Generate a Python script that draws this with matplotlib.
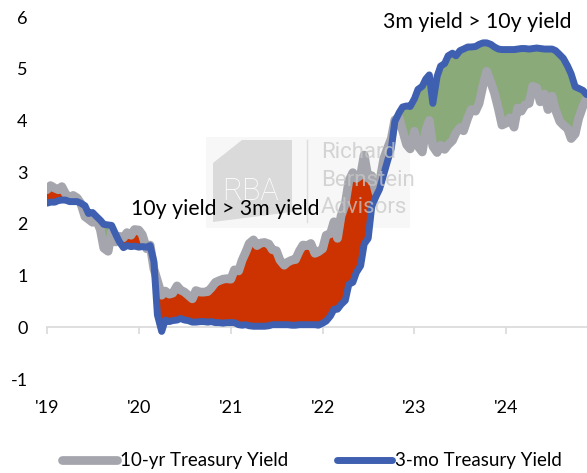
import pandas as pd
import matplotlib.pyplot as plt
from matplotlib.patches import Rectangle, Polygon
import matplotlib.transforms as mtransforms

plt.rcParams['font.family'] = ['Lato', 'DejaVu Sans']

# semi-monthly observations (1st and 15th), Jan 2019 - Nov 2024
dates = pd.date_range('2019-01-01', '2024-11-15', freq='SMS')

ten_yr = [
    # 2019
    2.66, 2.74, 2.69, 2.66, 2.72, 2.59, 2.49, 2.55, 2.50, 2.40, 2.14, 2.09,
    2.03, 2.09, 1.89, 1.53, 1.47, 1.84, 1.65, 1.76, 1.73, 1.83, 1.78, 1.89,
    # 2020
    1.88, 1.79, 1.52, 1.59, 1.13, 0.90, 0.62, 0.70, 0.64, 0.66, 0.80, 0.72,
    0.68, 0.62, 0.55, 0.71, 0.68, 0.68, 0.69, 0.76, 0.87, 0.90, 0.93, 0.94,
    # 2021
    0.93, 1.11, 1.09, 1.30, 1.45, 1.62, 1.69, 1.58, 1.63, 1.64, 1.61, 1.50,
    1.48, 1.30, 1.20, 1.26, 1.30, 1.31, 1.48, 1.59, 1.58, 1.62, 1.43, 1.46,
    # 2022
    1.52, 1.78, 1.81, 2.04, 1.72, 2.15, 2.39, 2.83, 2.99, 2.88, 2.94, 3.33,
    2.88, 2.93, 2.60, 2.79, 3.26, 3.45, 3.65, 4.01, 4.05, 3.80, 3.53, 3.45,
    # 2023
    3.79, 3.50, 3.39, 3.81, 4.00, 3.50, 3.38, 3.52, 3.44, 3.53, 3.61, 3.76,
    3.86, 3.80, 4.05, 4.21, 4.18, 4.33, 4.69, 4.95, 4.73, 4.53, 4.22, 3.91,
    # 2024
    3.95, 4.05, 3.87, 4.24, 4.18, 4.30, 4.33, 4.66, 4.63, 4.36, 4.51, 4.21,
    4.47, 4.20, 3.98, 3.91, 3.84, 3.65, 3.74, 4.04, 4.28, 4.42,
]

three_mo = [
    # 2019
    2.40, 2.42, 2.42, 2.45, 2.46, 2.46, 2.43, 2.43, 2.43, 2.40, 2.35, 2.20,
    2.22, 2.15, 2.07, 1.99, 1.98, 1.97, 1.80, 1.66, 1.54, 1.58, 1.56, 1.57,
    # 2020
    1.55, 1.56, 1.55, 1.58, 1.27, 0.24, -0.08, 0.14, 0.11, 0.13, 0.14, 0.17,
    0.14, 0.13, 0.10, 0.10, 0.11, 0.11, 0.10, 0.11, 0.09, 0.09, 0.08, 0.09,
    # 2021
    0.09, 0.09, 0.05, 0.04, 0.05, 0.03, 0.02, 0.02, 0.02, 0.02, 0.03, 0.05,
    0.05, 0.05, 0.05, 0.05, 0.04, 0.04, 0.05, 0.05, 0.05, 0.05, 0.05, 0.04,
    # 2022
    0.08, 0.12, 0.22, 0.35, 0.35, 0.44, 0.52, 0.83, 0.87, 1.06, 1.19, 1.61,
    1.72, 2.33, 2.53, 2.67, 2.96, 3.20, 3.46, 3.98, 4.15, 4.26, 4.28, 4.27,
    # 2023
    4.42, 4.60, 4.66, 4.80, 4.88, 4.33, 4.85, 5.05, 5.10, 5.25, 5.30, 5.25,
    5.35, 5.38, 5.42, 5.42, 5.43, 5.47, 5.50, 5.50, 5.47, 5.42, 5.38, 5.37,
    # 2024
    5.37, 5.37, 5.37, 5.38, 5.39, 5.39, 5.38, 5.39, 5.40, 5.39, 5.38, 5.38,
    5.38, 5.35, 5.27, 5.20, 5.05, 4.90, 4.65, 4.62, 4.58, 4.50,
]

year_ticks = pd.to_datetime(['2019-01-01', '2020-01-01', '2021-01-01',
                             '2022-01-01', '2023-01-01', '2024-01-01'])
year_labels = ["'19", "'20", "'21", "'22", "'23", "'24"]
y_ticks = [-1, 0, 1, 2, 3, 4, 5, 6]
y_labels = ['-1', '0', '1', '2', '3', '4', '5', '6']

s = pd.DataFrame({'10y': ten_yr, '3m': three_mo}, index=dates)

W, H = 587, 473
fig = plt.figure(figsize=(W / 100, H / 100), dpi=100)
ax = fig.add_axes([47 / W, 1 - 379 / H, 540 / W, 362 / H])

gray = '#A5A5AD'
blue = '#3F60B0'

# shaded spread
ax.fill_between(s.index, s['10y'], s['3m'], where=s['10y'] >= s['3m'],
                interpolate=True, color='#CC3300', lw=0, zorder=2)
ax.fill_between(s.index, s['10y'], s['3m'], where=s['10y'] < s['3m'],
                interpolate=True, color='#8AAA7A', lw=0, zorder=2)

l10, = ax.plot(s.index, s['10y'], color=gray, lw=6.3, solid_capstyle='round',
               solid_joinstyle='round', zorder=3, label='10-yr Treasury Yield')
l3, = ax.plot(s.index, s['3m'], color=blue, lw=5, solid_capstyle='round',
              solid_joinstyle='round', zorder=4, label='3-mo Treasury Yield')

ax.set_xlim(pd.Timestamp('2019-01-01'), pd.Timestamp('2024-11-17'))
ax.set_ylim(-1, 6)

for side in ['top', 'right', 'left']:
    ax.spines[side].set_visible(False)
ax.spines['bottom'].set_position(('data', 0))
ax.spines['bottom'].set_color('#D9D9D9')
ax.spines['bottom'].set_linewidth(1.2)

ax.set_xticks(year_ticks)
ax.tick_params(axis='x', direction='out', length=5, width=1.2,
               color='#D9D9D9', labelbottom=False)
trans = mtransforms.blended_transform_factory(ax.transData, ax.transAxes)
for d, lab in zip(year_ticks, year_labels):
    ax.text(d, -0.08, lab, transform=trans, ha='center', va='center',
            fontsize=13, color='black')

ax.set_yticks(y_ticks)
ax.set_yticklabels(y_labels, fontsize=13)
ax.tick_params(axis='y', length=0, pad=14)

# annotations
ax.text(pd.Timestamp('2019-12-01'), 2.28, '10y yield > 3m yield',
        fontsize=15.3, ha='left', va='center', zorder=6)
ax.text(pd.Timestamp('2022-08-29'), 5.9, '3m yield > 10y yield',
        fontsize=15.3, ha='left', va='center', zorder=6)

# faint watermark
def fp(x, y):
    return (x / W, 1 - y / H)

ax.add_patch(Rectangle(fp(206, 228), 204 / W, 91 / H, transform=fig.transFigure,
                       color='#F7F7F7', lw=0, zorder=0.5))
ax.add_patch(Polygon([fp(242, 140), fp(292, 140), fp(292, 212), fp(213, 222),
                      fp(213, 163)], closed=True, transform=fig.transFigure,
                     color='#DADADA', lw=0, zorder=0.6))
fig.text(*fp(250, 192), 'RBA', color='white', fontsize=22, ha='center',
         va='center', family='Roboto', fontweight='light', zorder=0.7)
ax.plot([307 / W, 307 / W], [1 - 140 / H, 1 - 222 / H], transform=fig.transFigure,
        color='#DDDDDD', lw=1, zorder=0.6)
for yy, word in zip([153, 181, 207], ['Richard', 'Bernstein', 'Advisors']):
    fig.text(*fp(321, yy), word, color='#C8C8C8', alpha=0.75, fontsize=16,
             ha='left', va='center', family='Roboto', zorder=7)

fig.legend(handles=[l10, l3], loc='center', bbox_to_anchor=(0.532, 0.026),
           ncol=2, frameon=False, fontsize=13.5, handlelength=2.9,
           handletextpad=0.2, columnspacing=2.6)

plt.savefig('out.png', dpi=100)
